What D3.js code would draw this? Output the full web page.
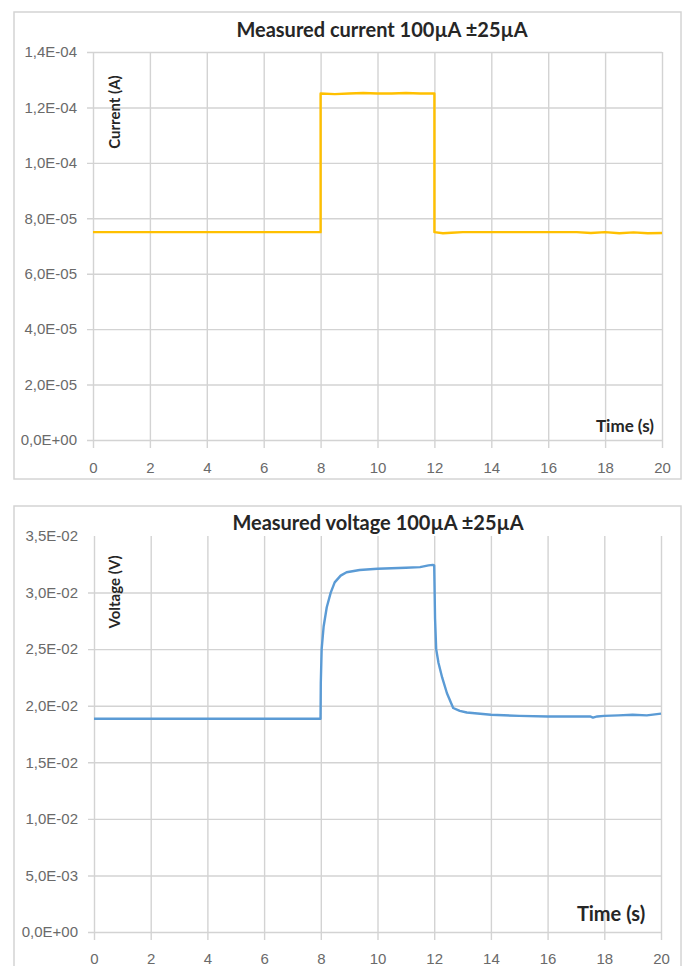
<!DOCTYPE html>
<html>
<head>
<meta charset="utf-8">
<script src="https://cdn.jsdelivr.net/npm/d3@7"></script>
<style>
  body { margin: 0; background: #fff; }
  svg { display: block; font-family: Lato, "Open Sans", sans-serif; }
</style>
</head>
<body>
<div id="chart"></div>
<script>
// tick values
const TIME_TICKS = [0, 2, 4, 6, 8, 10, 12, 14, 16, 18, 20];
const CURRENT_TICKS = [0, 2e-5, 4e-5, 6e-5, 8e-5, 1e-4, 1.2e-4, 1.4e-4];
const VOLTAGE_TICKS = [0, 5e-3, 1e-2, 1.5e-2, 2e-2, 2.5e-2, 3e-2, 3.5e-2];

// measured current (A)
const CURRENT_TIME = [0, 2, 4, 6, 8, 8, 8.5, 9, 9.5, 10, 10.5, 11, 11.5, 12, 12,
  12.3, 12.6, 13, 14, 16, 17, 17.5, 18, 18.5, 19, 19.5, 20];
const CURRENT_VALUES = [7.5e-5, 7.5e-5, 7.5e-5, 7.5e-5, 7.5e-5, 1.25e-4, 1.248e-4,
  1.25e-4, 1.252e-4, 1.25e-4, 1.25e-4, 1.252e-4, 1.25e-4, 1.25e-4, 7.5e-5,
  7.46e-5, 7.48e-5, 7.5e-5, 7.5e-5, 7.5e-5, 7.5e-5, 7.47e-5, 7.5e-5, 7.46e-5,
  7.49e-5, 7.46e-5, 7.47e-5];

// measured voltage (V)
const VOLTAGE_TIME = [0, 2, 4, 6, 7.99, 8, 8.03, 8.1, 8.21, 8.35, 8.49, 8.7, 8.91,
  9.37, 10, 10.5, 11, 11.5, 11.8, 11.95, 12, 12.03, 12.07, 12.15, 12.28, 12.45,
  12.67, 12.9, 13.15, 14, 15, 16, 17, 17.5, 17.6, 17.75, 18, 18.5, 19, 19.5, 20];
const VOLTAGE_VALUES = [1.885e-2, 1.885e-2, 1.885e-2, 1.885e-2, 1.885e-2, 2.2e-2,
  2.5e-2, 2.7e-2, 2.87e-2, 3.0e-2, 3.09e-2, 3.15e-2, 3.18e-2, 3.2e-2, 3.21e-2,
  3.215e-2, 3.22e-2, 3.225e-2, 3.24e-2, 3.245e-2, 3.24e-2, 2.77e-2, 2.5e-2,
  2.38e-2, 2.25e-2, 2.11e-2, 1.98e-2, 1.955e-2, 1.94e-2, 1.92e-2, 1.91e-2,
  1.905e-2, 1.905e-2, 1.905e-2, 1.895e-2, 1.905e-2, 1.91e-2, 1.915e-2, 1.92e-2,
  1.915e-2, 1.93e-2];

const WIDTH = 686;
const HEIGHT = 966;

const SVG = d3.select("#chart")
  .append("svg")
    .attr("width", WIDTH)
    .attr("height", HEIGHT);

// excel style number: 1,4E-04
function sciComma(v) {
  if (v === 0) return "0,0E+00";
  const parts = v.toExponential(1).split("e");
  const e = +parts[1];
  return parts[0].replace(".", ",") + "E" + (e < 0 ? "-" : "+") +
    String(Math.abs(e)).padStart(2, "0");
}

function drawChart(cfg) {
  const g = SVG.append("g");

  // outer box
  g.append("rect")
    .attr("x", cfg.box[0]).attr("y", cfg.box[1])
    .attr("width", cfg.box[2]).attr("height", cfg.box[3])
    .attr("fill", "#fff")
    .attr("stroke", "#d4d4d4")
    .attr("stroke-width", 1.5);

  const x = d3.scaleLinear().domain([0, 20]).range([cfg.left, cfg.right]);
  const y = d3.scaleLinear().domain([0, cfg.ymax]).range([cfg.bottom, cfg.top]);
  const plotW = cfg.right - cfg.left;
  const plotH = cfg.bottom - cfg.top;

  // vertical grid + x labels
  const xAxis = g.append("g")
    .attr("transform", `translate(0,${cfg.top})`)
    .call(d3.axisBottom(x).tickValues(TIME_TICKS).tickSize(plotH + 8)
      .tickPadding(cfg.xPad).tickFormat(d3.format("d")));

  // horizontal grid + y labels
  const yAxis = g.append("g")
    .attr("transform", `translate(${cfg.right},0)`)
    .call(d3.axisLeft(y).tickValues(cfg.yTicks).tickSize(plotW + 6)
      .tickPadding(10).tickFormat(sciComma));

  [xAxis, yAxis].forEach(a => {
    a.select(".domain").remove();
    a.selectAll("line").attr("stroke", "#d3d3d3").attr("stroke-width", 1.4);
    a.selectAll("text").attr("fill", "#6a6a6a").attr("font-size", 15);
  });
  if (!cfg.topGrid) {
    yAxis.selectAll(".tick").filter(d => d === cfg.ymax).select("line").remove();
  }

  // series
  const line = d3.line()
    .x((d, i) => x(cfg.time[i]))
    .y(d => y(d));
  g.append("path")
    .datum(cfg.values)
    .attr("d", line)
    .attr("fill", "none")
    .attr("stroke", cfg.color)
    .attr("stroke-width", 2.4)
    .attr("stroke-linejoin", "round");

  // title
  g.append("text")
    .attr("x", cfg.titleX).attr("y", cfg.titleY)
    .attr("text-anchor", "middle")
    .attr("font-weight", "bold")
    .attr("font-size", 20)
    .attr("fill", "#262626")
    .text(cfg.title);

  // y title (inside plot)
  g.append("text")
    .attr("transform", `translate(${cfg.yTitle[0]},${cfg.yTitle[1]}) rotate(-90)`)
    .attr("text-anchor", "middle")
    .attr("dominant-baseline", "middle")
    .attr("font-weight", "bold")
    .attr("font-size", 15)
    .attr("fill", "#262626")
    .text(cfg.yLabel);

  // x title
  g.append("text")
    .attr("x", cfg.xTitle[0]).attr("y", cfg.xTitle[1])
    .attr("text-anchor", "middle")
    .attr("dominant-baseline", "middle")
    .attr("font-weight", "bold")
    .attr("font-size", cfg.xTitleSize)
    .attr("fill", "#262626")
    .text("Time (s)");
}

drawChart({
  box: [14, 12, 667, 467],
  left: 93, right: 662, top: 52, bottom: 440,
  ymax: 1.4e-4, yTicks: CURRENT_TICKS, topGrid: true, xPad: 14,
  time: CURRENT_TIME, values: CURRENT_VALUES, color: "#ffc000",
  title: "Measured current 100µA ±25µA", titleX: 382, titleY: 37,
  yLabel: "Current (A)", yTitle: [116, 112],
  xTitle: [625, 428], xTitleSize: 17
});

drawChart({
  box: [14, 506, 667, 480],
  left: 94, right: 661, top: 536, bottom: 932,
  ymax: 3.5e-2, yTicks: VOLTAGE_TICKS, topGrid: false, xPad: 13,
  time: VOLTAGE_TIME, values: VOLTAGE_VALUES, color: "#5b9bd5",
  title: "Measured voltage 100µA ±25µA", titleX: 378, titleY: 530,
  yLabel: "Voltage (V)", yTitle: [116, 592],
  xTitle: [611, 916], xTitleSize: 20
});
</script>
</body>
</html>
